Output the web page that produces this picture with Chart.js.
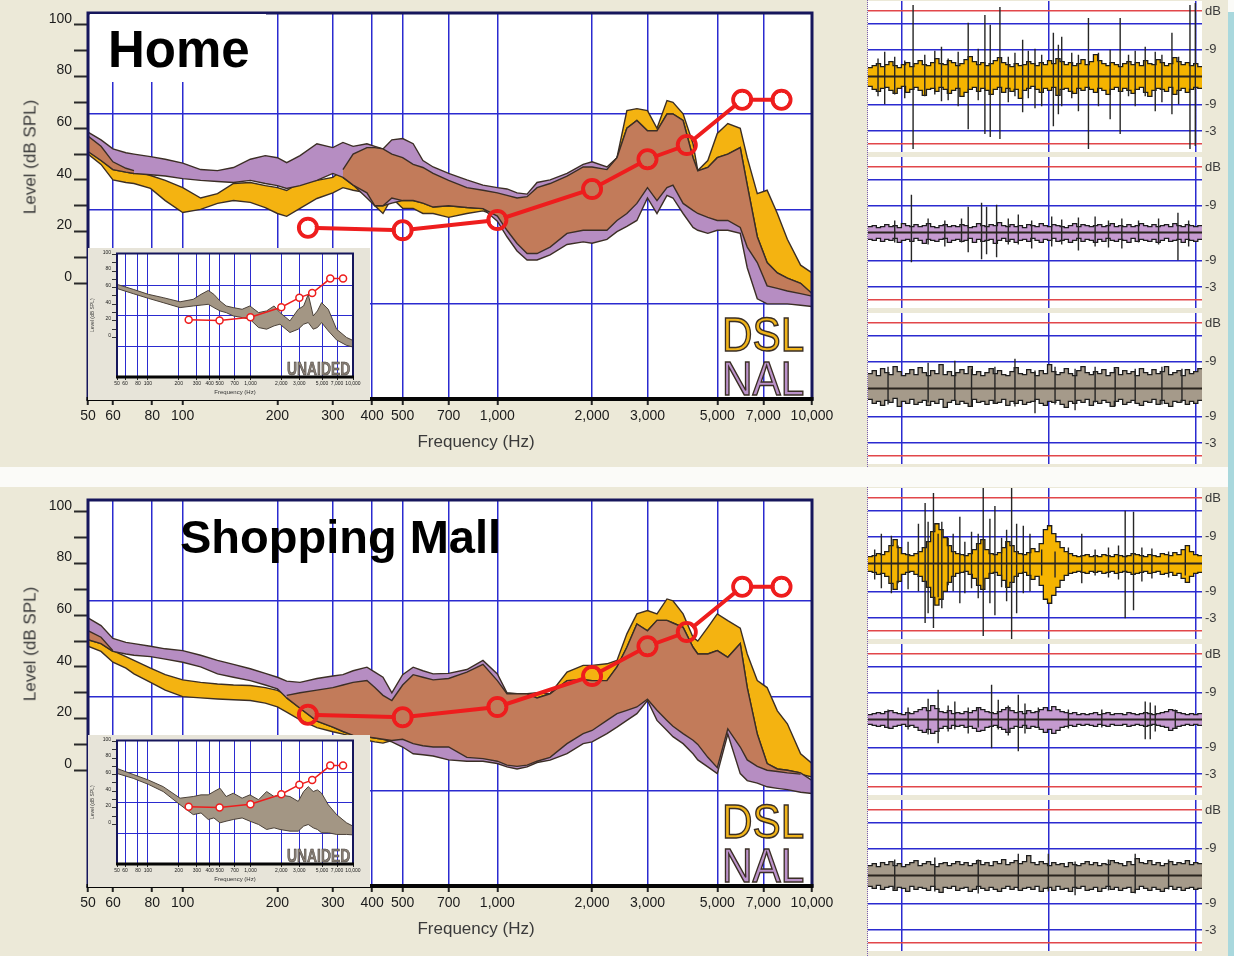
<!DOCTYPE html>
<html lang="en">
<head>
<meta charset="utf-8">
<title>Home / Shopping Mall – DSL vs NAL</title>
<script src="https://cdn.jsdelivr.net/npm/chart.js@4.4.1/dist/chart.umd.min.js"></script>
<style>
  html, body { margin: 0; padding: 0; }
  body { width: 1234px; height: 956px; position: relative; overflow: hidden; background: #fbfbf8; font-family: 'Liberation Sans', Arial, sans-serif; }
  .panel { position: absolute; left: 0; width: 1228px; background: #ece9d8; }
  .panel canvas { position: absolute; }
  .title-box { position: absolute; background: #fff; }
  .scene-title { position: absolute; font-weight: bold; color: #000; line-height: 1; white-space: nowrap; }
  .axis-title { position: absolute; font-size: 17px; color: #3a3a3a; white-space: nowrap; line-height: 1; transform: translate(-50%, -50%); }
  .axis-title.vertical { transform: translate(-50%, -50%) rotate(-90deg); }
  .rule-name { position: absolute; left: 722px; font-size: 48px; line-height: 1; transform: scaleX(0.88); transform-origin: left top; -webkit-text-stroke: 1.5px #3a2e24; }
  .rule-name.dsl { top: 311px; color: #f0b41a; }
  .rule-name.nal { top: 355px; color: #bb92ca; }
  .unaided { position: absolute; left: 287px; top: 360px; font-size: 18px; font-weight: bold; line-height: 1; color: #8c8278; -webkit-text-stroke: 0.6px #3d3833; transform: scaleX(0.77); transform-origin: left top; }
  .strip-col { position: absolute; left: 868px; top: 0; width: 360px; height: 100%; border-left: 1px dotted #7a5cb0; margin-left: -1px; }
  .edge { position: absolute; left: 1228px; top: 12px; width: 6px; height: 944px; background: #a9d8dd; }
</style>
</head>
<body>

<div class="panel" id="home" style="top:0;height:467px;">
  <canvas id="homeMain" width="860" height="468" style="left:0;top:0;"></canvas>
  <div class="title-box" style="left:90px;top:14px;width:176px;height:68px;"></div>
  <div class="scene-title" style="left:108px;top:24px;font-size:51px;">Home</div>
  <canvas id="homeInset" width="282" height="152" style="left:88px;top:248px;background:#e7e4d9;"></canvas>
  <div class="unaided">UNAIDED</div>
  <div class="rule-name dsl">DSL</div>
  <div class="rule-name nal">NAL</div>
  <div class="axis-title vertical" style="left:30px;top:157px;">Level (dB SPL)</div>
  <div class="axis-title" style="left:476px;top:441px;">Frequency (Hz)</div>
  <div class="strip-col">
    <canvas id="homeWave1" width="360" height="151" style="left:0;top:1px;"></canvas>
    <canvas id="homeWave2" width="360" height="151" style="left:0;top:157px;"></canvas>
    <canvas id="homeWave3" width="360" height="151" style="left:0;top:313px;"></canvas>
  </div>
</div>

<div class="panel" id="mall" style="top:487px;height:469px;">
  <canvas id="mallMain" width="860" height="468" style="left:0;top:0;"></canvas>
  <div class="scene-title" style="left:180px;top:26px;font-size:47px;">Shopping Mall</div>
  <canvas id="mallInset" width="282" height="152" style="left:88px;top:248px;background:#e7e4d9;"></canvas>
  <div class="unaided">UNAIDED</div>
  <div class="rule-name dsl">DSL</div>
  <div class="rule-name nal">NAL</div>
  <div class="axis-title vertical" style="left:30px;top:157px;">Level (dB SPL)</div>
  <div class="axis-title" style="left:476px;top:441px;">Frequency (Hz)</div>
  <div class="strip-col">
    <canvas id="mallWave1" width="360" height="151" style="left:0;top:1px;"></canvas>
    <canvas id="mallWave2" width="360" height="151" style="left:0;top:157px;"></canvas>
    <canvas id="mallWave3" width="360" height="151" style="left:0;top:313px;"></canvas>
  </div>
</div>

<div class="edge"></div>

<script>
// frequency grid shared by the DSL / NAL bands (Hz)
const freqs = [50, 55, 60, 66, 70, 79, 88, 100, 114, 129, 145, 164, 183, 200, 214, 236, 267, 300, 323, 348,
  385, 408, 433, 462, 500, 540, 580, 625, 700, 800, 900, 1000, 1073, 1155, 1243, 1337, 1471, 1665, 1874, 2000,
  2230, 2400, 2580, 2776, 3000, 3216, 3460, 3615, 3893, 4187, 4335, 4665, 5000, 5400, 5915, 6226, 6700, 7200, 7760, 8350,
  9200, 10000];

// Home
const homeDslHi = [57, 53, 47, 44.5, 43.6, 41.7, 39.8, 37, 33, 34.7, 38.6, 39, 37.8, 37, 35.9, 39, 39.8, 41, 44, 50,
  52.5, 52.5, 52, 50, 48.6, 46, 44.8, 42.5, 39.8, 37, 36, 35, 34, 33, 33.5, 37, 38.6, 41.5, 45, 45,
  44, 48.6, 66.8, 67.6, 66.8, 60, 70.7, 70, 65.6, 54, 43.6, 47.5, 58, 61.8, 60, 48.6, 34.7, 36, 27, 17,
  7, 4];
const homeDslLo = [50, 46, 40, 39, 38.6, 36.7, 32, 27.4, 28.6, 30.9, 32, 31.3, 29.3, 27, 25.9, 29, 32.8, 35, 37, 36,
  35, 30, 27, 33, 29, 29, 27, 27, 25.5, 27, 28, 26, 20.5, 15.4, 11.5, 11.5, 14, 19.3, 20.5, 20.5,
  20.5, 24.3, 27, 30.9, 37, 32, 37, 38, 30.9, 28.2, 27, 25.5, 24.3, 24.3, 21.6, 14, 8, -1, -2, -3,
  -4, -5];
const homeNalHi = [58.5, 55.5, 52, 50.5, 50, 49, 48, 46.5, 44, 43.6, 44.8, 48, 49.4, 48.6, 46.7, 49.4, 54, 52.5, 54.5, 53,
  54, 53, 52, 55.5, 56, 54, 47.5, 45, 42.5, 40, 38, 37, 36.5, 35, 34.5, 39, 40, 42.5, 46, 47,
  45, 48.6, 60, 63, 59, 59, 65.5, 65.5, 63, 48.6, 43.5, 44.8, 48.6, 50, 52.5, 38, 18, 8, 4, 2,
  0, -4];
const homeNalLo = [51, 47.5, 44, 43, 42.5, 42, 41.5, 40.5, 39.8, 39.4, 39, 39.8, 38.6, 37.8, 36.7, 37.8, 39.8, 42.5, 41, 38,
  33, 30, 30, 31, 32, 32, 31, 29.5, 30, 29.3, 28.9, 24, 18, 12.5, 9, 9, 11, 15, 16, 15.5,
  17, 20, 22, 24.3, 33, 27, 34, 33, 27, 21.6, 20.5, 19.3, 20.5, 20.5, 19.3, 6, -6, -8, -8, -8,
  -8.5, -9];

// Shopping Mall
const mallDslHi = [54, 51.5, 46.3, 44, 42.5, 39.5, 37, 35, 34, 33.4, 33, 32.8, 32, 30.9, 29, 30, 31, 32, 33, 34,
  34.7, 32, 29, 27, 33, 37, 36, 35, 35.5, 38, 41, 34.7, 29.6, 29.6, 29.6, 30, 29.6, 38, 40.6, 40.6,
  41.2, 42.5, 52.8, 60.5, 61.8, 60.5, 66.3, 65.6, 60.5, 51.5, 50, 55.3, 60.5, 57.9, 55, 45, 34.7, 32, 23, 18,
  6.4, 2.6];
const mallDslLo = [48, 46, 41.8, 39.5, 37.3, 34, 31, 28.5, 28, 27.6, 27.3, 27, 26, 24.5, 22.5, 19.5, 16.5, 14.9, 14, 13,
  11.6, 11, 10.5, 11.5, 12, 10.3, 9.5, 9, 9, 5, 4.5, 3.5, 2, 1.5, 2, 3.5, 5, 10.3, 14.2, 15.4,
  19.3, 21.9, 23.2, 24.5, 27.5, 23.2, 19.3, 17, 14.2, 11.6, 10, 5, 1, 16, 9, 4, 1.5, 0, -0.5, -1,
  -1.5, -2.6];
const mallNalHi = [59, 56, 51, 49.5, 49, 48, 47, 46.3, 44.5, 42.5, 41, 39.3, 37.5, 36, 34.5, 34, 35.5, 36.5, 37, 38.5,
  39.9, 38, 36, 30, 37, 39.9, 38.5, 37.3, 37.5, 39, 42.5, 37.3, 30, 29.6, 29.6, 28, 29.6, 34.7, 35, 34.7,
  34.7, 40, 47.6, 56.6, 54, 58, 58, 57, 55.3, 47.6, 45, 45, 46.3, 43.7, 49, 32, 14, 2.6, 0.5, 0,
  -1, -3.9];
const mallNalLo = [50.5, 49, 46, 45, 44.5, 44, 43, 41.8, 40, 37.3, 36, 34.7, 33, 31.5, 28, 24, 19, 16.7, 15, 13.5,
  12.9, 12.5, 12, 11, 9, 6.4, 6, 5.5, 4, 3.5, 3.5, 2.6, 1.3, 0.5, 1.3, 3, 3.9, 6.4, 10.3, 11,
  14.2, 16.7, 19.3, 21.9, 27, 19.3, 15.4, 13, 10.3, 6.4, 4, 1.3, -1.3, 14, -1.3, -4, -5, -6.4, -7, -7.5,
  -8.5, -9];

// audiogram threshold (same listener in both scenes)
const threshFreqs = [250, 500, 1000, 2000, 3000, 4000, 6000, 8000];
const threshold = [21.5, 20.5, 24.5, 36.5, 48, 53.5, 71, 71];

// unaided insets
const insetFreqs = [50, 72, 101, 141, 206, 277, 330, 388, 440, 505, 580, 680, 830, 988, 1200, 1438, 1700, 1940, 2427, 2925,
  3300, 3662, 4096, 4500, 4943, 5740, 6920, 8660, 10000];
const homeUnaidedHi = [64, 58, 52, 48, 43, 46, 52, 56.7, 52, 44, 38, 36, 34, 38, 30, 32, 38, 30, 20, 34,
  38, 52, 26, 32, 42, 34, 10, 0, -3.6];
const homeUnaidedLo = [59, 52.8, 47.2, 42, 36, 38, 39, 40, 36, 32, 30, 26, 24, 22, 12, 10, 14, 16, 6, 10,
  16, 18, 10, 12, 18, 8, -3, -9.5, -11.5];
const mallUnaidedHi = [67.5, 60.3, 53.6, 45.6, 31.7, 33.7, 35.7, 35.7, 39.7, 43.7, 33.7, 37.7, 31.7, 35.7, 29.8, 39.7, 33.7, 35.7, 33.7, 27.8,
  39.7, 45.6, 39.7, 41.7, 37.7, 23.8, 11.9, 2, -2];
const mallUnaidedLo = [61.5, 55.6, 48.4, 39.7, 23.8, 11.9, 13.9, 6, 7.9, 2, 4, 6, 7.9, 4, 0, -6, -4, -6, -8, -8,
  -2, 0, -4, -6, -10, -10, -12, -12, -12.5];

// axes
const freqTicks = [50, 60, 80, 100, 200, 300, 400, 500, 700, 1000, 2000, 3000, 5000, 7000, 10000];
const levelTicks = [0, 10, 20, 30, 40, 50, 60, 70, 80, 90, 100];
const gridLevels = [65.6, 28.6, -8.1];
const insetGridLevels = [63.1, 26.2, -10.7];

// waveform strips: envelope steps (top / bottom) and spikes [time, top, bottom]
const stripTicks = [66, 53, 27, -28, -55, -68];
const stripLabels = ['dB', '', '-9', '-9', '-3', ''];
const stripTimeLines = [10.2, 54, 98];

const homeDslWaveTop = [9, 11, 13, 10, 12, 15, 11, 9, 12, 14, 10, 13, 16, 12, 11, 14, 18, 13, 12, 16,
  14, 11, 13, 17, 20, 15, 12, 14, 11, 13, 16, 19, 14, 12, 10, 13, 11, 12, 15, 13,
  11, 14, 12, 16, 13, 18, 15, 12, 14, 11, 13, 17, 12, 15, 22, 16, 13, 11, 14, 12,
  10, 13, 15, 12, 14, 11, 16, 13, 12, 17, 14, 11, 13, 19, 15, 12, 14, 11, 13, 10];
const homeDslWaveBottom = [-10, -13, -15, -12, -11, -14, -17, -12, -10, -16, -13, -11, -14, -19, -13, -12, -15, -11, -13, -17,
  -14, -12, -20, -16, -13, -11, -15, -12, -14, -18, -13, -11, -16, -12, -15, -13, -22, -14, -12, -10,
  -13, -16, -12, -14, -11, -19, -13, -12, -15, -17, -12, -14, -11, -13, -16, -12, -14, -18, -13, -11,
  -15, -12, -14, -17, -13, -11, -16, -20, -14, -12, -13, -15, -11, -18, -14, -12, -16, -13, -11, -12];
const homeDslWaveSpikes = [[3, 18, -20], [5, 25, -28], [8, 20, -18], [11, 16, -22], [13.5, 72, -73], [17, 22, -20], [20, 26, -18],
  [22, 30, -25], [24, 18, -24], [27, 25, -30], [30, 54, -53], [33, 28, -24], [35, 62, -58], [36.6, 52, -61], [39.5, 70, -63],
  [42, 20, -26], [44, 24, -20], [46.3, 37, -36], [48, 26, -22], [50, 28, -32], [52, 22, -30], [55.5, 44, -50], [57, 32, -38],
  [58, 40, -30], [61, 24, -22], [63, 22, -35], [66, 59, -73], [69, 24, -30], [72.5, 27, -43], [75.5, 59, -58], [78, 22, -20],
  [80, 26, -30], [83, 30, -20], [86, 25, -35], [88, 22, -26], [91, 44, -38], [93, 20, -28], [96.4, 72, -73], [98, 74, -70]];

const homeNalWaveTop = [6, 7, 5, 6, 8, 6, 7, 5, 9, 7, 6, 8, 6, 7, 9, 6, 5, 7, 8, 6,
  7, 6, 8, 7, 5, 6, 9, 7, 6, 8, 7, 10, 7, 6, 8, 6, 7, 5, 8, 7,
  6, 9, 7, 6, 8, 7, 6, 5, 7, 9, 6, 8, 7, 6, 7, 8, 6, 7, 9, 6,
  7, 6, 8, 6, 7, 9, 7, 6, 8, 6, 7, 8, 6, 9, 7, 6, 8, 7, 6, 7];
const homeNalWaveBottom = [-7, -8, -6, -9, -7, -8, -6, -10, -8, -7, -9, -6, -8, -11, -7, -8, -9, -7, -6, -10,
  -8, -7, -9, -8, -6, -10, -7, -9, -8, -7, -11, -8, -6, -9, -7, -10, -8, -7, -9, -6,
  -8, -10, -7, -8, -6, -9, -8, -7, -10, -8, -6, -9, -7, -8, -10, -7, -9, -6, -8, -9,
  -7, -8, -10, -6, -9, -7, -8, -9, -7, -10, -8, -6, -9, -8, -7, -10, -7, -8, -9, -7];
const homeNalWaveSpikes = [[8, 12, -10], [13, 38, -30], [18, 14, -12], [23, 12, -14], [28, 14, -10], [30, 26, -20], [34, 30, -27],
  [35.5, 26, -22], [38.5, 28, -25], [42, 14, -12], [45, 18, -12], [49, 12, -16], [55, 16, -14], [58, 13, -12], [63, 15, -18],
  [68, 16, -14], [72, 12, -15], [76, 14, -16], [81, 12, -10], [87, 14, -12], [92.8, 20, -28], [96, 12, -14]];

const homeRawWaveTop = [15, 18, 13, 20, 16, 14, 22, 17, 13, 15, 19, 14, 21, 16, 13, 18, 15, 24, 14, 17,
  13, 16, 19, 15, 22, 14, 17, 13, 16, 20, 15, 18, 14, 13, 17, 21, 15, 14, 19, 16,
  13, 18, 15, 24, 17, 14, 16, 20, 15, 13, 18, 22, 16, 14, 17, 15, 19, 13, 16, 21,
  14, 18, 15, 17, 13, 20, 16, 14, 19, 15, 17, 22, 14, 16, 18, 13, 19, 15, 17, 20];
const homeRawWaveBottom = [-11, -15, -13, -17, -12, -14, -10, -18, -13, -15, -11, -16, -14, -12, -17, -13, -15, -11, -19, -14,
  -12, -16, -13, -15, -18, -11, -14, -13, -16, -12, -15, -14, -11, -17, -13, -15, -12, -16, -14, -13,
  -11, -15, -17, -13, -14, -12, -16, -19, -13, -15, -12, -14, -11, -17, -13, -15, -12, -14, -18, -13,
  -11, -16, -14, -12, -15, -17, -13, -14, -11, -16, -12, -15, -18, -13, -14, -12, -16, -13, -15, -12];
const homeRawWaveSpikes = [[6, 22, -16], [18, 26, -14], [26, 28, -12], [31, 20, -18], [38, 22, -15], [44, 30, -18], [50, 18, -25],
  [56, 22, -16], [62, 20, -22], [68, 22, -14], [74, 20, -18], [80, 20, -15], [88, 22, -16], [94, 20, -14]];

const mallDslWaveTop = [7, 8, 10, 9, 12, 18, 24, 16, 10, 9, 8, 10, 12, 16, 22, 32, 40, 34, 26, 18,
  12, 10, 9, 8, 10, 14, 20, 24, 14, 10, 9, 11, 16, 22, 18, 12, 10, 9, 11, 15,
  12, 20, 34, 38, 30, 22, 16, 12, 10, 8, 7, 8, 9, 7, 8, 7, 9, 8, 7, 9,
  8, 7, 8, 10, 9, 8, 7, 9, 8, 7, 10, 9, 8, 11, 9, 14, 18, 12, 9, 8];
const mallDslWaveBottom = [-8, -9, -11, -10, -13, -20, -26, -18, -11, -9, -8, -11, -13, -18, -24, -34, -42, -36, -28, -19,
  -13, -10, -9, -8, -11, -15, -22, -26, -15, -10, -9, -12, -17, -24, -19, -13, -10, -9, -12, -16,
  -13, -22, -36, -40, -32, -24, -17, -12, -10, -9, -8, -9, -10, -8, -9, -8, -10, -9, -8, -10,
  -9, -8, -9, -11, -10, -9, -8, -10, -9, -8, -11, -10, -9, -12, -10, -15, -19, -13, -10, -9];
const mallDslWaveSpikes = [[2, 14, -16], [4, 30, -25], [7, 28, -30], [9, 18, -20], [12, 22, -26], [15.1, 40, -28], [17.1, 61, -60],
  [18, 42, -50], [19.6, 71, -65], [21, 30, -34], [22.1, 42, -45], [24, 26, -22], [25.5, 30, -28], [27.5, 47, -40], [29, 22, -30],
  [31, 32, -25], [33, 30, -35], [34.5, 77, -73], [36.5, 45, -40], [38, 58, -52], [40, 26, -24], [41.5, 34, -38], [43, 77, -76],
  [44.5, 40, -50], [46.5, 38, -30], [48.5, 30, -28], [52, 14, -12], [56, 12, -14], [60, 16, -12], [64, 30, -20], [68, 14, -12],
  [72, 16, -14], [75, 18, -16], [77, 53, -55], [79.5, 52, -47], [82, 16, -18], [85, 15, -15], [90, 12, -14], [95, 14, -12]];

const mallNalWaveTop = [5, 6, 7, 6, 8, 9, 7, 6, 5, 7, 6, 8, 10, 12, 9, 14, 11, 8, 7, 9,
  6, 7, 6, 8, 7, 9, 12, 10, 8, 7, 6, 8, 10, 12, 9, 7, 8, 6, 9, 7,
  8, 10, 12, 9, 13, 10, 8, 7, 6, 7, 5, 6, 5, 6, 7, 5, 6, 7, 5, 6,
  6, 5, 7, 6, 5, 6, 7, 6, 5, 6, 7, 8, 10, 9, 7, 6, 5, 6, 5, 6];
const mallNalWaveBottom = [-5, -6, -7, -6, -8, -9, -7, -6, -5, -7, -6, -8, -11, -13, -10, -14, -12, -9, -7, -9,
  -6, -7, -6, -8, -7, -9, -12, -11, -8, -7, -6, -8, -10, -13, -9, -7, -8, -6, -9, -7,
  -8, -10, -13, -10, -14, -11, -8, -7, -6, -7, -5, -6, -5, -6, -7, -5, -6, -7, -5, -6,
  -6, -5, -7, -6, -5, -6, -7, -6, -5, -6, -7, -8, -11, -9, -7, -6, -5, -6, -5, -6];
const mallNalWaveSpikes = [[6, 10, -9], [12, 12, -10], [18, 21, -15], [21, 30, -24], [24, 14, -12], [26, 18, -10], [30, 12, -14],
  [33, 12, -8], [37, 35, -29], [39, 20, -10], [42, 14, -16], [45, 25, -32], [47, 16, -14], [51, 12, -8], [60, 10, -9],
  [70, 10, -8], [83, 18, -20], [84.5, 17, -20], [86, 14, -12], [92, 10, -9]];

const mallRawWaveTop = [10, 12, 9, 13, 11, 14, 10, 12, 9, 11, 13, 15, 10, 12, 14, 11, 9, 12, 13, 10,
  12, 14, 11, 13, 10, 12, 15, 11, 13, 10, 14, 12, 16, 11, 13, 15, 12, 14, 20, 13,
  11, 14, 12, 10, 13, 11, 12, 9, 13, 11, 10, 12, 14, 11, 13, 10, 12, 11, 15, 13,
  12, 10, 14, 11, 17, 13, 12, 15, 11, 13, 10, 12, 14, 11, 13, 12, 15, 11, 13, 12];
const mallRawWaveBottom = [-11, -13, -10, -14, -12, -11, -15, -12, -13, -16, -11, -14, -12, -13, -15, -11, -14, -17, -12, -13,
  -11, -15, -13, -12, -16, -14, -11, -13, -15, -12, -14, -16, -13, -11, -14, -12, -15, -13, -12, -14,
  -11, -16, -13, -12, -15, -11, -14, -13, -16, -12, -13, -11, -15, -14, -12, -16, -13, -11, -14, -12,
  -15, -13, -12, -17, -14, -11, -13, -15, -12, -14, -16, -13, -11, -14, -12, -15, -13, -12, -14, -13];
const mallRawWaveSpikes = [[8, 16, -14], [20, 18, -16], [33, 16, -18], [45, 22, -14], [54, 22, -16], [62, 14, -20], [72, 16, -15],
  [80, 22, -18], [90, 16, -14]];

const NARROW = "'Liberation Sans Narrow', 'Arial Narrow', 'Liberation Sans', Arial, sans-serif";
const BLUE = '#2b2bd0';
const RED = '#e2474a';
const EDGE = '#3b2e25';
const LEVEL_MIN = -44.8;
const LEVEL_MAX = 104.6;
const INSET_MIN = -47.6;
const INSET_MAX = 101.2;

Chart.defaults.animation = false;
Chart.defaults.responsive = false;
Chart.defaults.plugins.legend.display = false;
Chart.defaults.plugins.tooltip.enabled = false;

// white plot area + dark frame
Chart.register({
  id: 'paper',
  beforeDraw(chart) {
    const { ctx, chartArea: a } = chart;
    ctx.save();
    ctx.fillStyle = '#fff';
    ctx.fillRect(a.left, a.top, a.width, a.height);
    ctx.restore();
  },
  afterDraw(chart, args, opts) {
    if (!opts.frame) return;
    const { ctx, chartArea: a } = chart;
    ctx.save();
    ctx.strokeStyle = '#16165c';
    ctx.lineWidth = opts.frame;
    ctx.strokeRect(a.left, a.top, a.width, a.height);
    ctx.strokeStyle = '#050505';
    ctx.lineWidth = opts.base;
    ctx.beginPath();
    ctx.moveTo(a.left - opts.frame / 2, a.bottom);
    ctx.lineTo(a.right + opts.frame / 2, a.bottom);
    ctx.stroke();
    ctx.restore();
  }
});

// keep the threshold line out of its open circles
Chart.register({
  id: 'hollowRings',
  beforeDatasetDraw(chart, args) {
    const ds = chart.data.datasets[args.index];
    if (!ds.hollow) return;
    const { ctx, chartArea: a } = chart;
    ctx.save();
    ctx.beginPath();
    ctx.rect(a.left - 20, a.top - 20, a.width + 40, a.height + 40);
    args.meta.data.forEach((p) => {
      ctx.moveTo(p.x + ds.hollow, p.y);
      ctx.arc(p.x, p.y, ds.hollow, 0, Math.PI * 2);
    });
    ctx.clip('evenodd');
  },
  afterDatasetDraw(chart, args) {
    if (chart.data.datasets[args.index].hollow) chart.ctx.restore();
  }
});

const pts = (xs, ys) => xs.map((x, i) => ({ x, y: ys[i] }));

const fitBox = (w, h) => (scale) => {
  if (w !== null) scale.width = w;
  if (h !== null) scale.height = h;
  scale.paddingTop = 0;
  scale.paddingBottom = 0;
  scale.paddingLeft = 0;
  scale.paddingRight = 0;
};

const fixedTicks = (values) => (scale) => {
  scale.ticks = values.map((value) => ({ value }));
};

// lower edge first, upper edge fills back to it
const band = (xs, hi, lo, color, order, width, edge = EDGE) => [
  { data: pts(xs, lo), borderColor: edge, borderWidth: width, pointRadius: 0, fill: false, order },
  { data: pts(xs, hi), borderColor: edge, borderWidth: width, pointRadius: 0, fill: '-1', backgroundColor: color, order }
];

const freqAxis = (size, tick, afterFit) => ({
  type: 'logarithmic', min: 50, max: 10000,
  afterBuildTicks: fixedTicks(freqTicks),
  afterFit,
  ticks: {
    autoSkip: false, maxRotation: 0, padding: size > 8 ? 3 : 1, color: '#1b1b1b',
    font: { family: NARROW, size },
    callback: (v) => Number(v).toLocaleString('en-US')
  },
  grid: { color: BLUE, lineWidth: size > 8 ? 1.5 : 1, tickLength: tick, tickColor: '#222', tickWidth: size > 8 ? 2 : 1 },
  border: { display: false }
});

const drawMain = (id, dslHi, dslLo, nalHi, nalLo) => {
  const bothHi = freqs.map((f, i) => {
    const hi = Math.min(dslHi[i], nalHi[i]);
    return hi > Math.max(dslLo[i], nalLo[i]) ? hi : null;
  });
  const bothLo = freqs.map((f, i) => {
    const lo = Math.max(dslLo[i], nalLo[i]);
    return Math.min(dslHi[i], nalHi[i]) > lo ? lo : null;
  });

  new Chart(document.getElementById(id), {
    type: 'line',
    data: {
      datasets: [
        {
          data: pts(threshFreqs, threshold), borderColor: '#ee1d1d', borderWidth: 4,
          pointRadius: 9, pointBorderWidth: 4, pointBorderColor: '#ee1d1d',
          pointBackgroundColor: 'rgba(255,255,255,0)', order: 0, hollow: 7
        },
        ...band(freqs, bothHi, bothLo, '#c27b5a', 1, 1.4),
        ...band(freqs, nalHi, nalLo, '#b68dc2', 2, 1.4),
        ...band(freqs, dslHi, dslLo, '#f4b311', 3, 1.4)
      ]
    },
    options: {
      layout: { padding: { top: 12, right: 48, bottom: 29, left: 0 } },
      plugins: { paper: { frame: 3, base: 4 } },
      scales: {
        x: freqAxis(14, 6, fitBox(null, 40)),
        y: {
          position: 'left', min: LEVEL_MIN, max: LEVEL_MAX,
          afterBuildTicks: fixedTicks(levelTicks),
          afterFit: fitBox(88, null),
          ticks: {
            padding: 2, labelOffset: -6, color: '#1b1b1b',
            font: { family: NARROW, size: 14 },
            callback: (v) => (v % 20 === 0 ? String(v) : '')
          },
          grid: { drawOnChartArea: false, tickLength: 14, tickColor: '#2a2a2a', tickWidth: 2 },
          border: { display: false }
        },
        yg: {
          position: 'left', min: LEVEL_MIN, max: LEVEL_MAX,
          afterBuildTicks: fixedTicks(gridLevels),
          afterFit: fitBox(0, null),
          ticks: { display: false },
          grid: { color: BLUE, lineWidth: 1.5, drawTicks: false },
          border: { display: false }
        }
      }
    }
  });
};

const drawInset = (id, hi, lo) => {
  new Chart(document.getElementById(id), {
    type: 'line',
    data: {
      datasets: [
        {
          data: pts(threshFreqs, threshold), borderColor: '#ee1d1d', borderWidth: 1.5,
          pointRadius: 3.5, pointBorderWidth: 1.5, pointBorderColor: '#ee1d1d',
          pointBackgroundColor: '#fff', order: 0
        },
        ...band(insetFreqs, hi, lo, '#a39684', 1, 1, '#4a4038')
      ]
    },
    options: {
      layout: { padding: { top: 4, right: 17, bottom: 0, left: 0 } },
      plugins: { paper: { frame: 2, base: 3 } },
      scales: {
        x: {
          ...freqAxis(5, 3, fitBox(null, 23)),
          title: { display: true, text: 'Frequency (Hz)', color: '#333', font: { size: 6 }, padding: { top: 0, bottom: 4 } }
        },
        y: {
          position: 'left', min: INSET_MIN, max: INSET_MAX,
          afterBuildTicks: fixedTicks(levelTicks),
          afterFit: fitBox(29, null),
          title: { display: true, text: 'Level (dB SPL)', color: '#333', font: { size: 5 }, padding: 2 },
          ticks: {
            padding: 1, labelOffset: -2, color: '#222',
            font: { family: NARROW, size: 5 },
            callback: (v) => (v % 20 === 0 ? String(v) : '')
          },
          grid: { drawOnChartArea: false, tickLength: 5, tickColor: '#333', tickWidth: 1 },
          border: { display: false }
        },
        yg: {
          position: 'left', min: INSET_MIN, max: INSET_MAX,
          afterBuildTicks: fixedTicks(insetGridLevels),
          afterFit: fitBox(0, null),
          ticks: { display: false },
          grid: { color: BLUE, lineWidth: 1, drawTicks: false },
          border: { display: false }
        }
      }
    }
  });
};

const drawStrip = (id, top, bottom, spikes, color) => {
  const env = (arr) => {
    const d = arr.map((v, i) => ({ x: (i * 100) / arr.length, y: v }));
    d.push({ x: 100, y: arr[arr.length - 1] });
    return d;
  };
  const spikeData = [];
  spikes.forEach(([t, hi, lo]) => {
    spikeData.push({ x: t, y: hi }, { x: t, y: lo }, { x: t, y: null });
  });

  new Chart(document.getElementById(id), {
    type: 'line',
    data: {
      datasets: [
        { data: [{ x: 0, y: 0 }, { x: 100, y: 0 }], borderColor: '#2a241e', borderWidth: 2, pointRadius: 0, order: 0 },
        { data: spikeData, borderColor: '#262626', borderWidth: 1.4, pointRadius: 0, spanGaps: false, order: 1 },
        { data: env(bottom), stepped: true, borderColor: '#1c1c1c', borderWidth: 1.3, pointRadius: 0, fill: false, order: 2 },
        { data: env(top), stepped: true, borderColor: '#1c1c1c', borderWidth: 1.3, pointRadius: 0, fill: '-1', backgroundColor: color, order: 2 }
      ]
    },
    options: {
      layout: { padding: 0 },
      scales: {
        x: {
          type: 'linear', min: 0, max: 100,
          afterBuildTicks: fixedTicks(stripTimeLines),
          afterFit: fitBox(null, 0),
          ticks: { display: false },
          grid: { color: BLUE, lineWidth: 1.5, drawTicks: false },
          border: { display: false }
        },
        y: {
          position: 'right', min: -76, max: 76,
          afterBuildTicks: fixedTicks(stripTicks),
          afterFit: fitBox(26, null),
          ticks: {
            padding: 3, color: '#3b3b3b',
            font: { family: "'Liberation Sans', Arial, sans-serif", size: 13 },
            callback: (v, i) => stripLabels[i]
          },
          grid: { color: (ctx) => (Math.abs(ctx.tick.value) > 60 ? RED : BLUE), lineWidth: 1.5, drawTicks: false },
          border: { display: false }
        }
      }
    }
  });
};

drawMain('homeMain', homeDslHi, homeDslLo, homeNalHi, homeNalLo);
drawMain('mallMain', mallDslHi, mallDslLo, mallNalHi, mallNalLo);
drawInset('homeInset', homeUnaidedHi, homeUnaidedLo);
drawInset('mallInset', mallUnaidedHi, mallUnaidedLo);

drawStrip('homeWave1', homeDslWaveTop, homeDslWaveBottom, homeDslWaveSpikes, '#f5b400');
drawStrip('homeWave2', homeNalWaveTop, homeNalWaveBottom, homeNalWaveSpikes, '#c59ad0');
drawStrip('homeWave3', homeRawWaveTop, homeRawWaveBottom, homeRawWaveSpikes, '#a59a8a');
drawStrip('mallWave1', mallDslWaveTop, mallDslWaveBottom, mallDslWaveSpikes, '#f5b400');
drawStrip('mallWave2', mallNalWaveTop, mallNalWaveBottom, mallNalWaveSpikes, '#c59ad0');
drawStrip('mallWave3', mallRawWaveTop, mallRawWaveBottom, mallRawWaveSpikes, '#a59a8a');
</script>
</body>
</html>
